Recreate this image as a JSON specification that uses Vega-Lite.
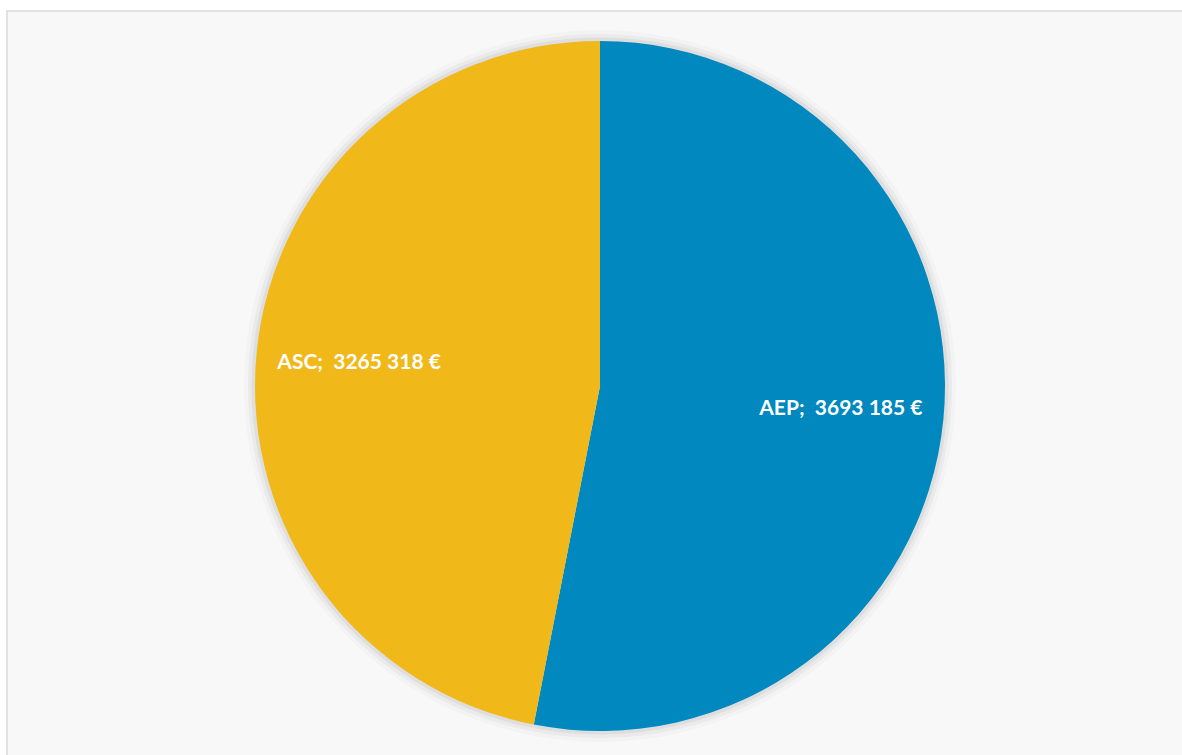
{
  "$schema": "https://vega.github.io/schema/vega-lite/v6.json",
  "width": 1186,
  "height": 750,
  "autosize": {"type": "none"},
  "padding": {"left": 7, "top": 11, "right": 0, "bottom": 0},
  "background": "white",
  "view": {"fill": "#f8f8f8", "stroke": "#d9d9d9", "strokeWidth": 1.5},
  "data": {
    "values": [
      {"category": "AEP", "value": 3693185, "label": "AEP; \u00a03693 185 €", "order": 1},
      {"category": "ASC", "value": 3265318, "label": "ASC; \u00a03265 318 €", "order": 2}
    ]
  },
  "encoding": {
    "theta": {"field": "value", "type": "quantitative", "stack": true},
    "order": {"field": "order", "type": "quantitative"}
  },
  "layer": [
    {"mark": {"type": "arc", "outerRadius": 356, "color": "#000000", "opacity": 0.02}},
    {"mark": {"type": "arc", "outerRadius": 352, "color": "#000000", "opacity": 0.035}},
    {"mark": {"type": "arc", "outerRadius": 348.5, "color": "#000000", "opacity": 0.05}},
    {
      "mark": {"type": "arc", "outerRadius": 345},
      "encoding": {
        "color": {
          "field": "category",
          "type": "nominal",
          "scale": {"domain": ["AEP", "ASC"], "range": ["#0088BF", "#F1B81A"]},
          "legend": null
        }
      }
    },
    {
      "mark": {"type": "text", "radius": 242, "font": "Lato", "fontWeight": "bold", "fontSize": 21, "color": "white"},
      "encoding": {"text": {"field": "label", "type": "nominal"}}
    }
  ]
}
